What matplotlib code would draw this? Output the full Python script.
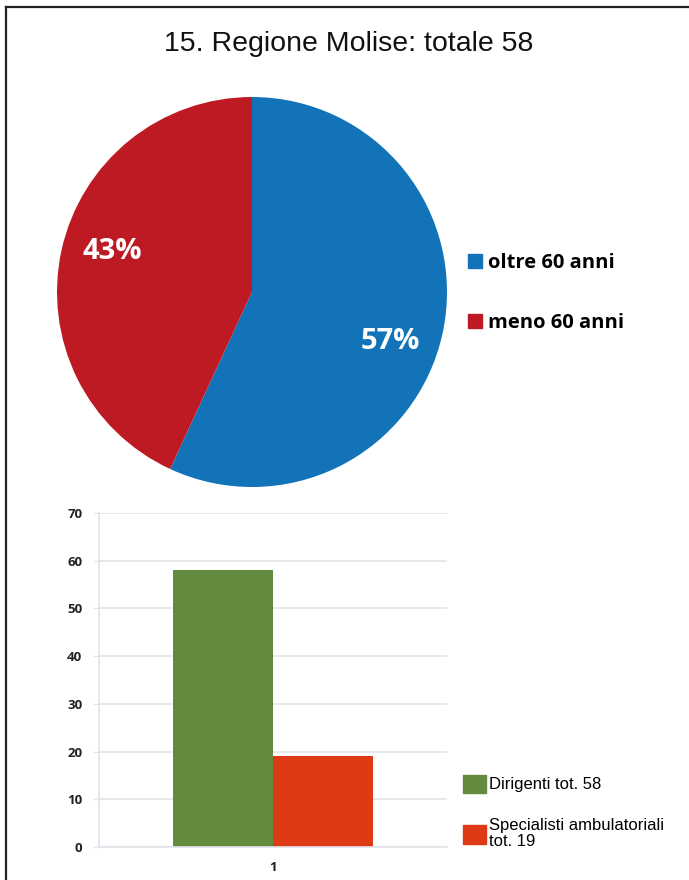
import math
import matplotlib.pyplot as plt
from matplotlib.lines import Line2D
from matplotlib.patches import Patch

# age split of the doctors
age_labels = ['oltre 60 anni', 'meno 60 anni']
age_counts = [33, 25]
age_colors = ['#1273b8', '#be1a24']

# staff totals
staff_labels = ['Dirigenti tot. 58', 'Specialisti ambulatoriali\ntot. 19']
staff_counts = [58, 19]
staff_colors = ['#648a3f', '#de3a16']
category = ['1']

W, H = 689, 880
fig = plt.figure(figsize=(W / 100, H / 100), dpi=100)

def box(left, top, width, height):
    # pixel box -> figure fraction
    return [left / W, 1 - (top + height) / H, width / W, height / H]

# frame line on top and left
fig.add_artist(Line2D([6 / W, 6 / W], [0, 1 - 7 / H], color='#222222', lw=1.6))
fig.add_artist(Line2D([6 / W, 1], [1 - 7 / H, 1 - 7 / H], color='#222222', lw=1.6))

fig.text(349 / W, 1 - 44 / H, '15. Regione Molise: totale 58', ha='center', va='center',
         fontsize=20.5, family='Liberation Sans', color='#111111')

##### pie #####
ax1 = fig.add_axes(box(57, 97, 390, 390))
wedges, texts, pcts = ax1.pie(age_counts, colors=age_colors, startangle=90, counterclock=False,
                              autopct='%1.0f%%', pctdistance=0.74,
                              wedgeprops=dict(linewidth=0))
for w, t in zip(wedges, pcts):
    # labels sit a bit before the middle of each wedge
    ang = math.radians(w.theta1 + 0.47 * (w.theta2 - w.theta1))
    t.set_position((0.75 * math.cos(ang), 0.75 * math.sin(ang) - 0.015))
    t.set_color('white')
    t.set_fontsize(21)
    t.set_fontweight('bold')
    t.set_family('Open Sans')
ax1.set_xlim(-1, 1)
ax1.set_ylim(-1, 1)
ax1.set_aspect('equal')

fig.legend(handles=[Patch(color=c, label=l) for c, l in zip(age_colors, age_labels)],
           loc='center left', bbox_to_anchor=(450 / W, 1 - 293 / H), frameon=False,
           handlelength=0.7, handleheight=0.7, handletextpad=0.3, labelspacing=1.95,
           prop=dict(family='Open Sans', weight='bold', size=14.5))

##### bars #####
ax2 = fig.add_axes(box(99, 513, 348, 334))
bw = 0.287
ax2.bar([1 - bw / 2], [staff_counts[0]], width=bw, color=staff_colors[0], label=staff_labels[0])
ax2.bar([1 + bw / 2], [staff_counts[1]], width=bw, color=staff_colors[1], label=staff_labels[1])
ax2.set_xlim(0.5, 1.5)
ax2.set_ylim(0, 70)
ax2.set_yticks(range(0, 71, 10))
ax2.set_xticks([1])
ax2.set_xticklabels(category)
ax2.grid(axis='y', color='#e2e2ea', lw=1.2)
ax2.set_axisbelow(True)
for s in ['top', 'right']:
    ax2.spines[s].set_visible(False)
for s in ['left', 'bottom']:
    ax2.spines[s].set_color('#e2e2ea')
    ax2.spines[s].set_linewidth(1.2)
ax2.tick_params(axis='y', length=4, color='#e2e2ea', pad=8)
ax2.tick_params(axis='x', length=0, pad=10)
for t in ax2.get_yticklabels() + ax2.get_xticklabels():
    t.set_family('Open Sans')
    t.set_fontweight('bold')
    t.set_fontsize(9.5)
    t.set_color('#222222')

leg2 = fig.legend(handles=[Patch(color=c, label=l) for c, l in zip(staff_colors, staff_labels)],
                  loc='center left', bbox_to_anchor=(448 / W, 1 - 812 / H), frameon=False,
                  handlelength=1.35, handleheight=1.35, handletextpad=0.2, labelspacing=1.5,
                  prop=dict(family='Liberation Sans', size=12))
for t in leg2.get_texts():
    t.set_linespacing(1.1)

plt.savefig('out.png', dpi=100)
